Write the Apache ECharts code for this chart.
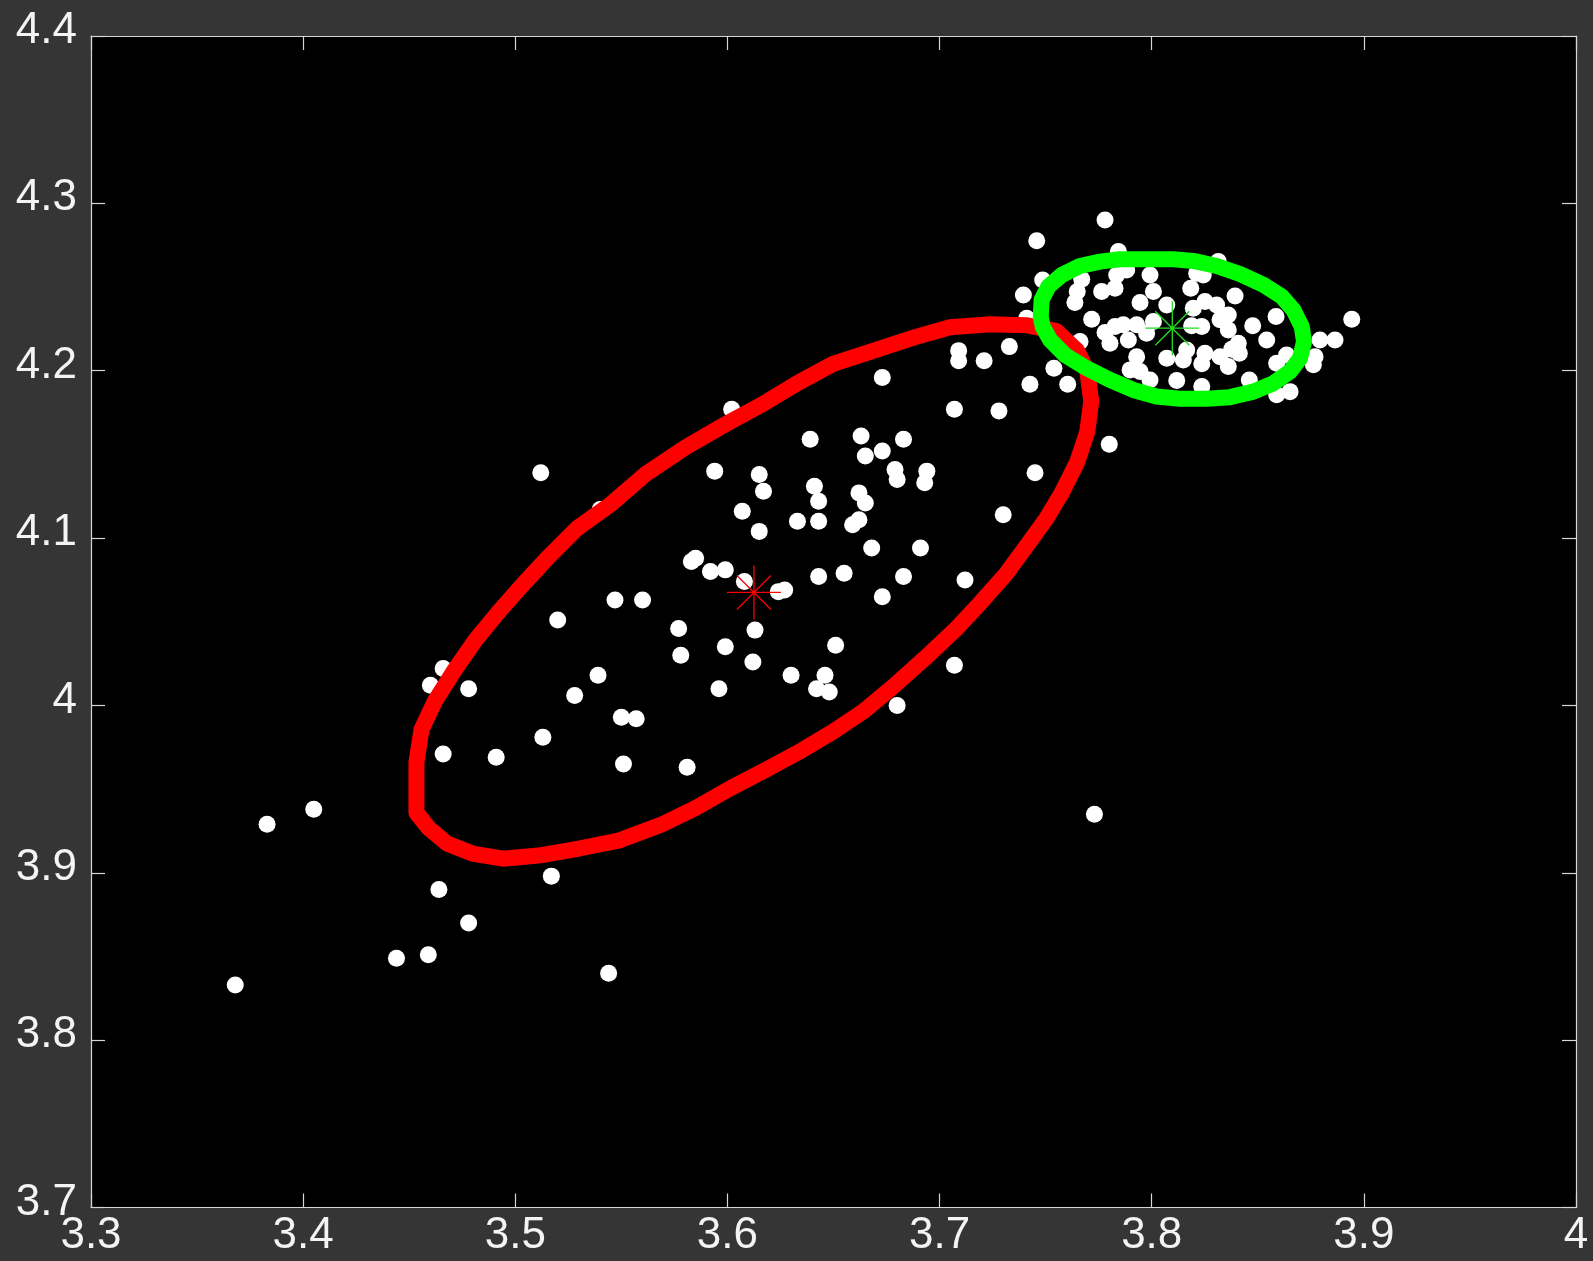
<!DOCTYPE html>
<html>
<head>
<meta charset="utf-8">
<title>Two-cluster Gaussian mixture</title>
<script src="https://cdn.jsdelivr.net/npm/echarts@6/dist/echarts.min.js"></script>
<style>
  html, body { margin: 0; padding: 0; background: #353535; }
  #chart { width: 1593px; height: 1261px; }
</style>
</head>
<body>
<div id="chart"></div>
<script>
// Axis ranges and tick spacing
const xTicks = [3.3, 3.4, 3.5, 3.6, 3.7, 3.8, 3.9, 4.0];
const yTicks = [3.7, 3.8, 3.9, 4.0, 4.1, 4.2, 4.3, 4.4];

// Observed samples [x, y]
const samplesLower = [
  [3.368, 3.833], [3.383, 3.929], [3.405, 3.938], [3.444, 3.849], [3.459, 3.851],
  [3.464, 3.890], [3.478, 3.870], [3.544, 3.840], [3.517, 3.898], [3.773, 3.935],
  [3.460, 4.012], [3.466, 4.022], [3.478, 4.010], [3.466, 3.971], [3.491, 3.969],
  [3.513, 3.981], [3.528, 4.006], [3.539, 4.018], [3.520, 4.051], [3.512, 4.139],
  [3.540, 4.117], [3.547, 4.063], [3.560, 4.063], [3.550, 3.993], [3.557, 3.992],
  [3.551, 3.965], [3.581, 3.963], [3.577, 4.046], [3.578, 4.030], [3.583, 4.086],
  [3.585, 4.088], [3.592, 4.080], [3.599, 4.081], [3.594, 4.140], [3.602, 4.177],
  [3.607, 4.116], [3.615, 4.138], [3.617, 4.128], [3.615, 4.104], [3.608, 4.074],
  [3.624, 4.068], [3.627, 4.069], [3.613, 4.045], [3.599, 4.035], [3.612, 4.026],
  [3.596, 4.010], [3.630, 4.018], [3.633, 4.110], [3.639, 4.159], [3.641, 4.131],
  [3.643, 4.122], [3.643, 4.110], [3.643, 4.077], [3.651, 4.036], [3.642, 4.010],
  [3.646, 4.018], [3.648, 4.008], [3.655, 4.079], [3.659, 4.108], [3.662, 4.111],
  [3.662, 4.127], [3.665, 4.121], [3.663, 4.161], [3.665, 4.149], [3.673, 4.196],
  [3.673, 4.152], [3.668, 4.094], [3.673, 4.065], [3.679, 4.141], [3.680, 4.135],
  [3.683, 4.159], [3.683, 4.077], [3.694, 4.140], [3.693, 4.133], [3.691, 4.094],
  [3.680, 4.000], [3.707, 4.024], [3.712, 4.075], [3.707, 4.177], [3.709, 4.212],
  [3.709, 4.206], [3.721, 4.206], [3.728, 4.176], [3.730, 4.114], [3.745, 4.139],
  [3.780, 4.156]
];

const samplesUpper = [
  [3.7780, 4.2901], [3.7458, 4.2777], [3.7843, 4.2712], [3.8314, 4.2652], [3.7486, 4.2542],
  [3.7395, 4.2453], [3.7670, 4.2547], [3.7649, 4.2473], [3.7638, 4.2407], [3.7764, 4.2473],
  [3.7827, 4.2493], [3.7835, 4.2572], [3.7882, 4.2602], [3.7992, 4.2572], [3.8008, 4.2473],
  [3.7945, 4.2407], [3.8071, 4.2393], [3.8184, 4.2493], [3.8212, 4.2582], [3.8243, 4.2572],
  [3.8251, 4.2413], [3.8196, 4.2373], [3.8306, 4.2393], [3.8361, 4.2333], [3.8393, 4.2447],
  [3.8322, 4.2304], [3.8361, 4.2244], [3.8476, 4.2268], [3.8542, 4.2184], [3.8586, 4.2324],
  [3.7717, 4.2308], [3.7780, 4.2228], [3.7827, 4.2264], [3.7866, 4.2274], [3.7929, 4.2274],
  [3.7976, 4.2224], [3.8008, 4.2294], [3.7803, 4.2164], [3.7890, 4.2184], [3.8188, 4.2268],
  [3.8236, 4.2264], [3.8408, 4.2164], [3.8413, 4.2104], [3.8377, 4.2128], [3.8322, 4.2084],
  [3.8251, 4.2104], [3.8236, 4.2041], [3.8165, 4.2124], [3.8149, 4.2064], [3.8071, 4.2074],
  [3.7929, 4.2084], [3.7898, 4.2005], [3.7945, 4.1995], [3.7992, 4.1945], [3.8118, 4.1941],
  [3.8236, 4.1905], [3.8361, 4.2025], [3.8460, 4.1945], [3.8589, 4.2045], [3.8636, 4.2094],
  [3.8589, 4.1856], [3.8652, 4.1875], [3.8770, 4.2084], [3.8762, 4.2035], [3.8793, 4.2184],
  [3.8864, 4.2184], [3.8943, 4.2308], [3.7662, 4.2174], [3.7539, 4.2015], [3.7604, 4.1919],
  [3.7426, 4.1919], [3.7329, 4.2144], [3.7411, 4.2314]
];

// Fitted component contours (closed outlines)
const redContour = [
  [3.4534, 3.9358], [3.4534, 3.9661], [3.4558, 3.9856], [3.4621, 4.0025], [3.4712, 4.0208],
  [3.4812, 4.0390], [3.4918, 4.0554], [3.5023, 4.0705], [3.5157, 4.0888], [3.5291, 4.1058],
  [3.5445, 4.1197], [3.5612, 4.1380], [3.5804, 4.1543], [3.5995, 4.1683], [3.6163, 4.1798],
  [3.6330, 4.1926], [3.6498, 4.2041], [3.6690, 4.2120], [3.6881, 4.2199], [3.7049, 4.2260],
  [3.7241, 4.2278], [3.7408, 4.2272], [3.7552, 4.2236], [3.7648, 4.2120], [3.7696, 4.1999],
  [3.7715, 4.1817], [3.7696, 4.1634], [3.7648, 4.1452], [3.7576, 4.1270], [3.7504, 4.1118],
  [3.7418, 4.0967], [3.7312, 4.0784], [3.7193, 4.0614], [3.7073, 4.0451], [3.6929, 4.0280],
  [3.6785, 4.0117], [3.6641, 3.9965], [3.6498, 3.9843], [3.6354, 3.9734], [3.6186, 3.9619],
  [3.6019, 3.9509], [3.5851, 3.9388], [3.5684, 3.9285], [3.5492, 3.9194], [3.5301, 3.9145],
  [3.5109, 3.9103], [3.4942, 3.9084], [3.4798, 3.9115], [3.4678, 3.9175], [3.4592, 3.9267],
  [3.4534, 3.9358]
];

const greenContour = [
  [3.7477, 4.2323], [3.7481, 4.2423], [3.7513, 4.2503], [3.7576, 4.2572], [3.7662, 4.2626],
  [3.7756, 4.2652], [3.7851, 4.2666], [3.7976, 4.2666], [3.8102, 4.2666], [3.8196, 4.2656],
  [3.8306, 4.2626], [3.8416, 4.2578], [3.8526, 4.2513], [3.8613, 4.2443], [3.8668, 4.2363],
  [3.8707, 4.2264], [3.8718, 4.2174], [3.8699, 4.2074], [3.8652, 4.1995], [3.8573, 4.1925],
  [3.8479, 4.1875], [3.8369, 4.1842], [3.8259, 4.1832], [3.8133, 4.1832], [3.8023, 4.1846],
  [3.7913, 4.1885], [3.7803, 4.1945], [3.7693, 4.2015], [3.7591, 4.2094], [3.7521, 4.2184],
  [3.7486, 4.2264], [3.7477, 4.2323]
];

// Component means
const redMean = [3.6125, 4.0675];
const greenMean = [3.8097, 4.2254];

const asterisk = 'path://M0,-27L0,27M-27,0L27,0M-17,-17L17,17M-17,17L17,-17';
const frameColor = '#d6d6d6';
const labelFont = 'Liberation Sans, Arial, Helvetica, sans-serif';

function axisCommon(min, max, ticks) {
  return {
    type: 'value',
    min: min,
    max: max,
    interval: +(ticks[1] - ticks[0]).toFixed(2),
    axisLine: { show: true, onZero: false, lineStyle: { color: frameColor, width: 1.2 } },
    axisTick: { show: true, inside: true, length: 14, lineStyle: { color: frameColor, width: 1.2 } },
    splitLine: { show: false }
  };
}

const xMin = xTicks[0], xMax = xTicks[xTicks.length - 1];
const yMin = yTicks[0], yMax = yTicks[yTicks.length - 1];

const chart = echarts.init(document.getElementById('chart'), null, { renderer: 'canvas' });

chart.setOption({
  backgroundColor: '#353535',
  animation: false,
  grid: {
    show: true,
    left: 91, right: 17, top: 36, bottom: 53.5,
    backgroundColor: '#000000',
    borderWidth: 0
  },
  xAxis: [
    Object.assign(axisCommon(xMin, xMax, xTicks), {
      position: 'bottom',
      axisLabel: { show: true, color: '#f4f4f4', fontSize: 44, fontFamily: labelFont, margin: 6 }
    }),
    Object.assign(axisCommon(xMin, xMax, xTicks), {
      position: 'top',
      axisLabel: { show: false }
    })
  ],
  yAxis: [
    Object.assign(axisCommon(yMin, yMax, yTicks), {
      position: 'left',
      axisLabel: {
        show: true, color: '#f4f4f4', fontSize: 44, fontFamily: labelFont,
        margin: 14, verticalAlign: 'bottom', lineHeight: 10
      }
    }),
    Object.assign(axisCommon(yMin, yMax, yTicks), {
      position: 'right',
      axisLabel: { show: false }
    })
  ],
  series: [
    {
      name: 'samples',
      type: 'scatter',
      data: samplesLower.concat(samplesUpper),
      symbol: 'circle',
      symbolSize: 17,
      itemStyle: { color: '#ffffff', opacity: 1 },
      silent: true
    },
    {
      name: 'component 1',
      type: 'line',
      data: redContour,
      showSymbol: false,
      symbol: 'none',
      lineStyle: { color: '#ff0000', width: 16, join: 'round', cap: 'round', opacity: 1 },
      silent: true
    },
    {
      name: 'component 2',
      type: 'line',
      data: greenContour,
      showSymbol: false,
      symbol: 'none',
      lineStyle: { color: '#00ff00', width: 16, join: 'round', cap: 'round', opacity: 1 },
      silent: true
    },
    {
      name: 'mean 1',
      type: 'scatter',
      data: [redMean],
      symbol: asterisk,
      symbolSize: 54,
      itemStyle: { color: 'rgba(0,0,0,0)', borderColor: '#ff0000', borderWidth: 1.3, opacity: 1 },
      silent: true
    },
    {
      name: 'mean 2',
      type: 'scatter',
      data: [greenMean],
      symbol: asterisk,
      symbolSize: 54,
      itemStyle: { color: 'rgba(0,0,0,0)', borderColor: '#22dd22', borderWidth: 1.3, opacity: 1 },
      silent: true
    }
  ]
});
</script>
</body>
</html>
